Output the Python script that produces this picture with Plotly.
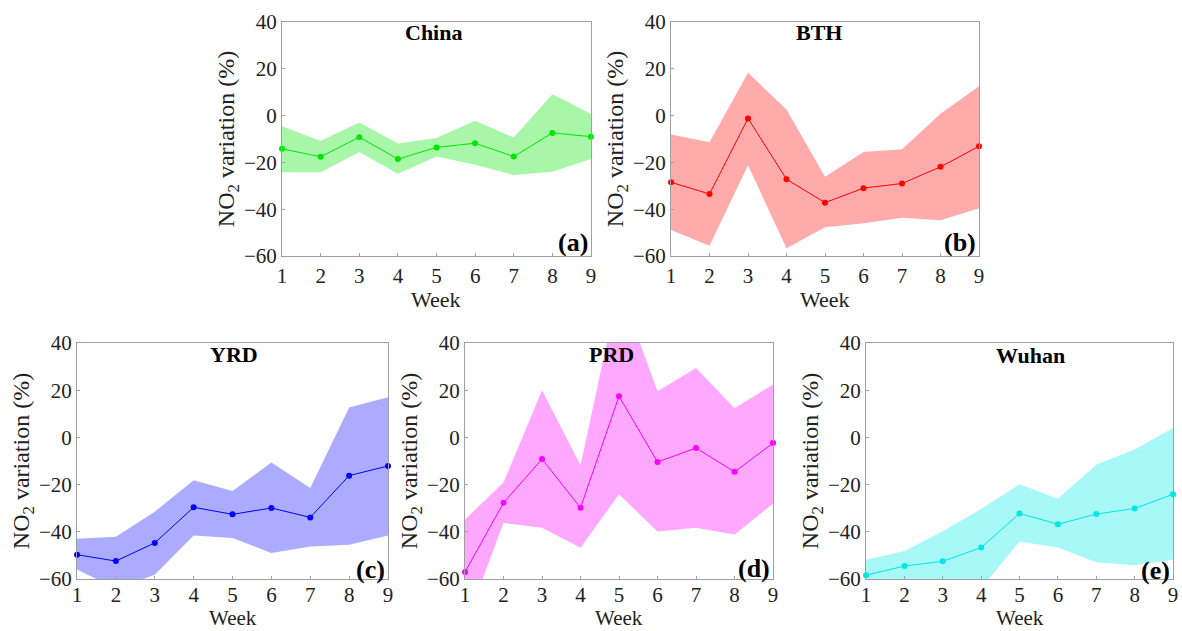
import plotly.graph_objects as go

weeks = [1, 2, 3, 4, 5, 6, 7, 8, 9]
tick_labels = ["1", "2", "3", "4", "5", "6", "7", "8", "9"]

regions = ["China", "BTH", "YRD", "PRD", "Wuhan"]
panel_tags = ["(a)", "(b)", "(c)", "(d)", "(e)"]

china_mean = [-14.2, -17.6, -9.2, -18.6, -13.6, -11.8, -17.5, -7.4, -9.0]
china_upper = [-4.5, -10.9, -3.0, -11.9, -9.6, -2.2, -9.4, 9.1, 0.7]
china_lower = [-24.2, -24.2, -15.6, -24.9, -17.5, -21.0, -25.4, -24.0, -18.6]

bth_mean = [-28.5, -33.5, -1.2, -27.2, -37.2, -31.0, -29.0, -21.9, -13.1]
bth_upper = [-8.1, -11.4, 18.3, 2.6, -26.1, -15.6, -14.4, 0.8, 12.5]
bth_lower = [-48.9, -55.6, -21.2, -56.7, -47.7, -46.0, -43.7, -44.7, -39.6]

yrd_mean = [-49.7, -52.4, -44.7, -29.6, -32.6, -29.9, -33.9, -16.2, -12.1]
yrd_upper = [-42.9, -42.1, -31.5, -18.2, -22.7, -10.6, -21.4, 12.7, 17.0]
yrd_lower = [-56.0, -64.0, -58.2, -41.6, -42.6, -49.0, -46.2, -45.5, -41.6]

prd_mean = [-57.0, -27.7, -9.2, -29.8, 17.4, -10.4, -4.5, -14.6, -2.4]
prd_upper = [-34.8, -19.1, 20.0, -11.8, 64.0, 19.6, 29.4, 12.3, 22.4]
prd_lower = [-80.0, -36.2, -38.3, -46.8, -24.1, -39.9, -38.3, -41.1, -28.1]

wuhan_mean = [-58.4, -54.5, -52.5, -46.7, -32.2, -36.8, -32.5, -30.1, -24.1]
wuhan_upper = [-51.8, -48.1, -39.8, -30.3, -19.9, -26.0, -11.6, -5.1, 4.0]
wuhan_lower = [-65.0, -62.0, -65.0, -64.0, -44.1, -46.7, -52.9, -54.2, -51.8]

means = [china_mean, bth_mean, yrd_mean, prd_mean, wuhan_mean]
uppers = [china_upper, bth_upper, yrd_upper, prd_upper, wuhan_upper]
lowers = [china_lower, bth_lower, yrd_lower, prd_lower, wuhan_lower]

line_colors = ["rgb(0,230,0)", "rgb(255,0,0)", "rgb(0,0,255)", "rgb(255,0,255)", "rgb(0,230,230)"]
fill_colors = ["rgba(0,230,0,0.34)", "rgba(255,0,0,0.33)", "rgba(0,0,255,0.33)",
               "rgba(255,0,255,0.34)", "rgba(0,235,235,0.34)"]

W, H = 1182, 631


def fx(px):
    return px / W


def fy(py):
    return 1 - py / H


# panel boxes in page pixels: (left, right, top, bottom)
boxes = [(282, 591, 22, 256), (671, 979, 22, 256),
         (77, 388, 343, 579), (465, 773, 343, 579), (866, 1173, 343, 579)]
title_x = [433, 819, 234, 611, 1030]
title_y = [32, 32, 354, 354, 355]
tag_y = [243, 243, 569, 568, 570]
week_y = [299, 299, 618, 618, 618]
xlabel_standoff = [1, 1, -3, -3, -3]
week_size = [22, 22, 21, 21, 21]

FONT = "Liberation Serif, Times New Roman, serif"
fig = go.Figure()
annotations = []

for i in range(5):
    l, r, t, b = boxes[i]
    xd = [fx(l), fx(r)]
    yd = [fy(b), fy(t)]
    xa = "x" if i == 0 else f"x{i+1}"
    ya = "y" if i == 0 else f"y{i+1}"
    fig.add_trace(go.Scatter(
        x=weeks + weeks[::-1], y=uppers[i] + lowers[i][::-1],
        fill="toself", fillcolor=fill_colors[i], line=dict(width=0),
        mode="lines", hoverinfo="skip", showlegend=False, xaxis=xa, yaxis=ya))
    fig.add_trace(go.Scatter(
        x=weeks, y=means[i], mode="lines+markers",
        line=dict(color=line_colors[i], width=1),
        marker=dict(color=line_colors[i], size=6),
        cliponaxis=False, showlegend=False, xaxis=xa, yaxis=ya))

    axis_common = dict(showgrid=False, zeroline=False, showline=True, mirror=True,
                       linecolor="rgb(160,160,160)", linewidth=1,
                       ticks="inside", ticklen=3, tickcolor="rgb(160,160,160)",
                       tickfont=dict(family=FONT, size=21, color="#222"),
                       automargin=False)
    xkey = "xaxis" if i == 0 else f"xaxis{i+1}"
    ykey = "yaxis" if i == 0 else f"yaxis{i+1}"
    fig.update_layout({
        xkey: dict(axis_common, domain=xd, range=[1, 9], tickvals=weeks, ticktext=tick_labels,
                   anchor=ya, ticklabelstandoff=xlabel_standoff[i]),
        ykey: dict(axis_common, domain=yd, range=[-60, 40], tickvals=[-60, -40, -20, 0, 20, 40],
                   anchor=xa,
                   title=dict(text="NO<sub>2</sub> variation (%)",
                              font=dict(family=FONT, size=24, color="#222"), standoff=2)),
    })
    annotations.append(dict(text="Week", x=(xd[0] + xd[1]) / 2, y=fy(week_y[i]),
                            xref="paper", yref="paper", xanchor="center", yanchor="middle",
                            showarrow=False,
                            font=dict(family=FONT, size=week_size[i], color="#222")))
    annotations.append(dict(text=f"<b>{regions[i]}</b>", x=fx(title_x[i]), y=fy(title_y[i]),
                            xref="paper", yref="paper", xanchor="center", yanchor="middle",
                            showarrow=False,
                            font=dict(family=FONT, size=22, color="black")))
    annotations.append(dict(text=f"<b>{panel_tags[i]}</b>", x=xd[1], y=fy(tag_y[i]),
                            xref="paper", yref="paper", xanchor="right", yanchor="middle",
                            xshift=-1, showarrow=False,
                            font=dict(family=FONT, size=26, color="black")))

fig.update_layout(width=W, height=H, margin=dict(l=0, r=0, t=0, b=0),
                  paper_bgcolor="white", plot_bgcolor="white",
                  annotations=annotations, showlegend=False)
fig.write_html("out.html", config={"displayModeBar": False},
               post_script="document.body.style.margin='0px';document.body.style.overflow='hidden';")
